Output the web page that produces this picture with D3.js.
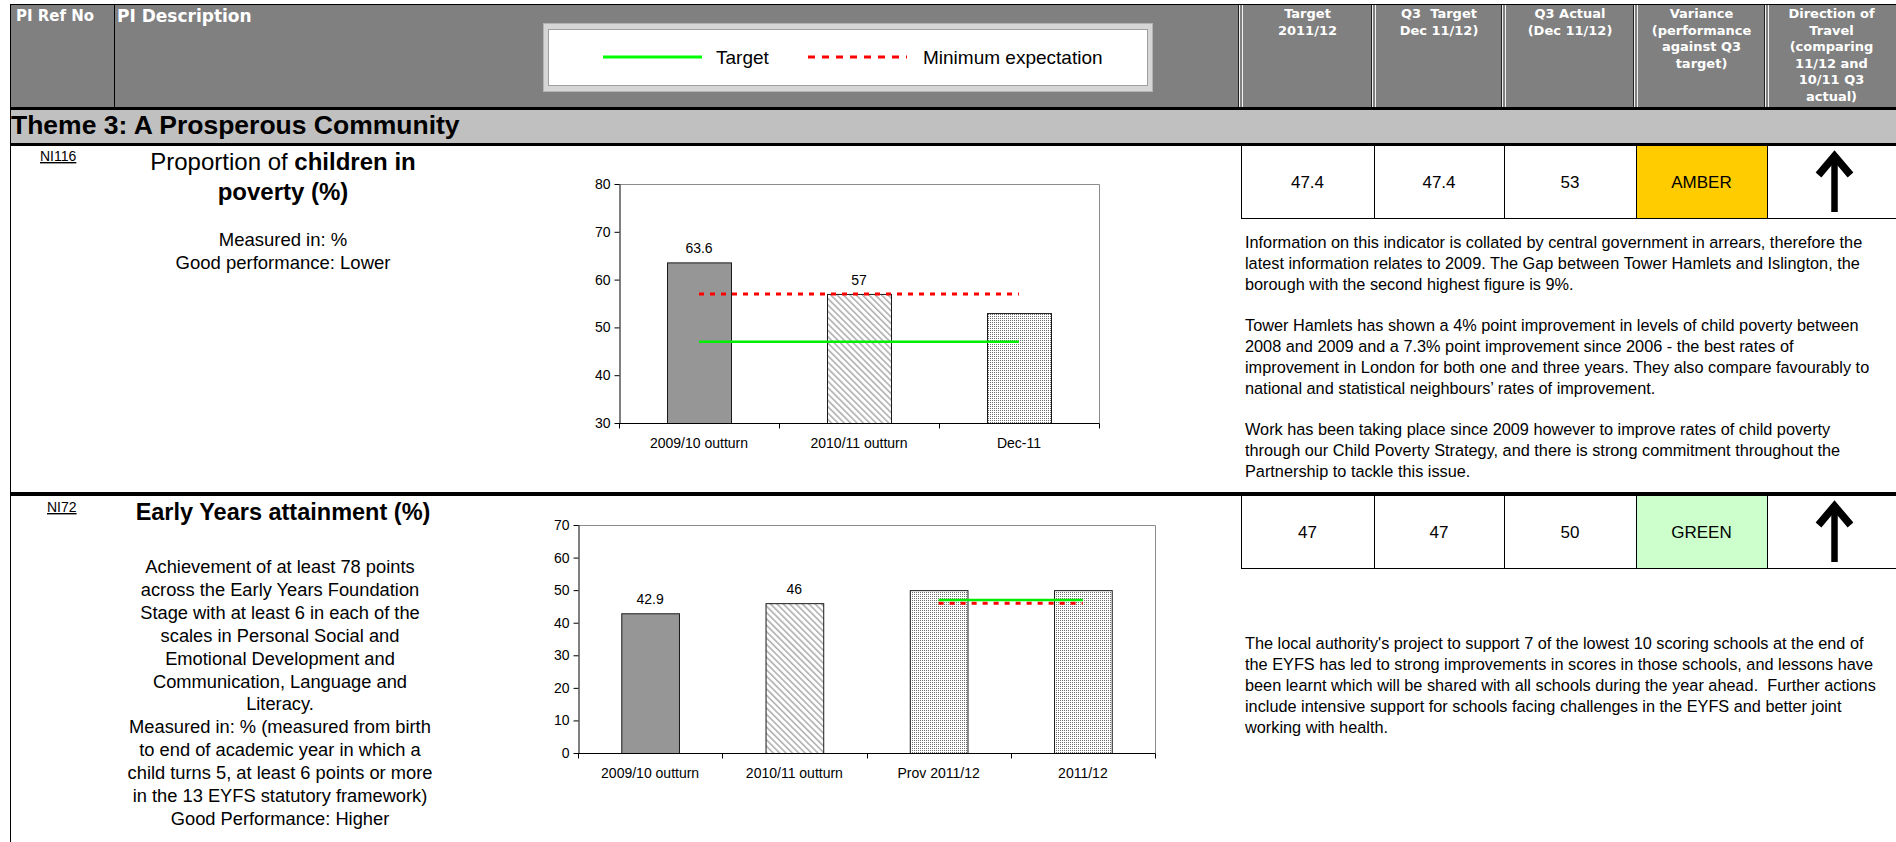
<!DOCTYPE html>
<html>
<head>
<meta charset="utf-8">
<script src="https://cdn.jsdelivr.net/npm/d3@7"></script>
<style>
  body { margin: 0; background: #fff; }
  text { font-family: "Liberation Sans", Arial, sans-serif; fill: #000; }
  .hdr { font-family: "DejaVu Sans", Verdana, sans-serif; font-weight: bold; fill: #fff; }
  .pre { white-space: pre; }
</style>
</head>
<body>
<svg id="page" width="1896" height="842"></svg>
<script>
// ---- data ----
var headerCols = [
  ["Target", "2011/12"],
  ["Q3  Target", "Dec 11/12)"],
  ["Q3 Actual", "(Dec 11/12)"],
  ["Variance", "(performance", "against Q3", "target)"],
  ["Direction of", "Travel", "(comparing", "11/12 and", "10/11 Q3", "actual)"]
];
var themeTitle = "Theme 3: A Prosperous Community";
var legendItems = ["Target", "Minimum expectation"];

// NI116
var povertyCats = ["2009/10 outturn", "2010/11 outturn", "Dec-11"];
var povertyVals = [63.6, 57, 53];
var povertyLabels = ["63.6", "57", null];
var povertyFills = ["solid", "hatch", "dots"];
var povertyTarget = 47;
var povertyMinimum = 57;
var povertyTicks = [30, 40, 50, 60, 70, 80];
var povertyTable = ["47.4", "47.4", "53", "AMBER"];
var povertyText = [
  "Information on this indicator is collated by central government in arrears, therefore the",
  "latest information relates to 2009. The Gap between Tower Hamlets and Islington, the",
  "borough with the second highest figure is 9%.",
  "",
  "Tower Hamlets has shown a 4% point improvement in levels of child poverty between",
  "2008 and 2009 and a 7.3% point improvement since 2006 - the best rates of",
  "improvement in London for both one and three years. They also compare favourably to",
  "national and statistical neighbours\u2019 rates of improvement.",
  "",
  "Work has been taking place since 2009 however to improve rates of child poverty",
  "through our Child Poverty Strategy, and there is strong commitment throughout the",
  "Partnership to tackle this issue."
];
var povertyDesc = ["Measured in: %", "Good performance: Lower"];

// NI72
var eyCats = ["2009/10 outturn", "2010/11 outturn", "Prov 2011/12", "2011/12"];
var eyVals = [42.9, 46, 50, 50];
var eyLabels = ["42.9", "46", null, null];
var eyFills = ["solid", "hatch", "dots", "dots"];
var eyTarget = 47;
var eyMinimum = 46;
var eyTicks = [0, 10, 20, 30, 40, 50, 60, 70];
var eyTable = ["47", "47", "50", "GREEN"];
var eyText = [
  "The local authority's project to support 7 of the lowest 10 scoring schools at the end of",
  "the EYFS has led to strong improvements in scores in those schools, and lessons have",
  "been learnt which will be shared with all schools during the year ahead.  Further actions",
  "include intensive support for schools facing challenges in the EYFS and better joint",
  "working with health."
];
var eyDesc = [
  "Achievement of at least 78 points",
  "across the Early Years Foundation",
  "Stage with at least 6 in each of the",
  "scales in Personal Social and",
  "Emotional Development and",
  "Communication, Language and",
  "Literacy.",
  "Measured in: % (measured from birth",
  "to end of academic year in which a",
  "child turns 5, at least 6 points or more",
  "in the 13 EYFS statutory framework)",
  "Good Performance: Higher"
];

var colEdges = [1241, 1374, 1504, 1636, 1767, 1896];

var svg = d3.select("#page");

// patterns for the bars
var defs = svg.append("defs");
var hatch = defs.append("pattern")
  .attr("id", "hatch")
  .attr("patternUnits", "userSpaceOnUse")
  .attr("width", 4.5).attr("height", 4.5)
  .attr("patternTransform", "rotate(-45)");
hatch.append("rect").attr("width", 4.5).attr("height", 4.5).attr("fill", "#fff");
hatch.append("rect").attr("width", 1.6).attr("height", 4.5).attr("fill", "#b0b0b0");

var dots = defs.append("pattern")
  .attr("id", "dots")
  .attr("patternUnits", "userSpaceOnUse")
  .attr("width", 2).attr("height", 2);
dots.append("rect").attr("width", 2).attr("height", 2).attr("fill", "#fff");
dots.append("rect").attr("width", 1).attr("height", 1).attr("fill", "#6e6e6e");

var fillFor = { solid: "#969696", hatch: "url(#hatch)", dots: "url(#dots)" };

// ---- header ----
svg.append("rect").attr("x", 10).attr("y", 4).attr("width", 1886).attr("height", 104).attr("fill", "#808080");
svg.append("line").attr("x1", 10).attr("x2", 1896).attr("y1", 4.5).attr("y2", 4.5).attr("stroke", "#000");
svg.append("line").attr("x1", 114.5).attr("x2", 114.5).attr("y1", 4).attr("y2", 108).attr("stroke", "#000");

colEdges.slice(0, 5).forEach(function(x) {
  svg.append("line").attr("x1", x - 2.5).attr("x2", x - 2.5).attr("y1", 5).attr("y2", 107).attr("stroke", "#222");
  svg.append("line").attr("x1", x - 1.5).attr("x2", x - 1.5).attr("y1", 5).attr("y2", 107).attr("stroke", "#f0f0f0");
  svg.append("line").attr("x1", x + 1.5).attr("x2", x + 1.5).attr("y1", 5).attr("y2", 107).attr("stroke", "#f0f0f0");
});

svg.append("text").attr("class", "hdr").attr("x", 16).attr("y", 21).style("font-size", "15px").text("PI Ref No");
svg.append("text").attr("class", "hdr").attr("x", 117).attr("y", 22).style("font-size", "17px").text("PI Description");

headerCols.forEach(function(lines, i) {
  var cx = (colEdges[i] + colEdges[i + 1]) / 2;
  lines.forEach(function(s, j) {
    svg.append("text").attr("class", "hdr pre")
      .attr("x", cx).attr("y", 18 + j * 16.6)
      .attr("text-anchor", "middle")
      .style("font-size", "13px")
      .text(s);
  });
});

// legend box
svg.append("rect").attr("x", 543.5).attr("y", 23.5).attr("width", 609).attr("height", 68)
  .attr("fill", "#d6d6d6").attr("stroke", "#b4b4b4");
svg.append("rect").attr("x", 548.5).attr("y", 29.5).attr("width", 599).attr("height", 56)
  .attr("fill", "#fff").attr("stroke", "#a0a0a0");
svg.append("line").attr("x1", 603).attr("x2", 702).attr("y1", 57).attr("y2", 57)
  .attr("stroke", "#00ff00").attr("stroke-width", 3);
svg.append("text").attr("x", 716).attr("y", 64).style("font-size", "19px").text(legendItems[0]);
svg.append("line").attr("x1", 808).attr("x2", 907).attr("y1", 57).attr("y2", 57)
  .attr("stroke", "#ff0000").attr("stroke-width", 3).attr("stroke-dasharray", "7,7");
svg.append("text").attr("x", 923).attr("y", 64).style("font-size", "19px").text(legendItems[1]);

// thick rules and theme band
svg.append("rect").attr("x", 10).attr("y", 107).attr("width", 1886).attr("height", 3).attr("fill", "#000");
svg.append("rect").attr("x", 10).attr("y", 110).attr("width", 1886).attr("height", 33).attr("fill", "#c0c0c0");
svg.append("rect").attr("x", 10).attr("y", 143).attr("width", 1886).attr("height", 3).attr("fill", "#000");
svg.append("rect").attr("x", 10).attr("y", 492).attr("width", 1886).attr("height", 4).attr("fill", "#000");
svg.append("line").attr("x1", 10.5).attr("x2", 10.5).attr("y1", 4).attr("y2", 842).attr("stroke", "#000");

svg.append("text").attr("x", 11).attr("y", 134)
  .style("font-size", "26.5px").style("font-weight", "bold")
  .text(themeTitle);

// ---- helpers ----
function refLabel(x, y, s) {
  svg.append("text").attr("x", x).attr("y", y)
    .style("font-size", "14px").style("text-decoration", "underline")
    .text(s);
}

function centredLines(lines, cx, y0, step, size) {
  lines.forEach(function(s, i) {
    svg.append("text").attr("x", cx).attr("y", y0 + i * step)
      .attr("text-anchor", "middle").style("font-size", size + "px")
      .text(s);
  });
}

function paragraph(lines, x, y0, step) {
  lines.forEach(function(s, i) {
    if (!s) return;
    svg.append("text").attr("class", "pre").attr("x", x).attr("y", y0 + i * step)
      .style("font-size", "16.3px").text(s);
  });
}

function arrowUp(cx, top, bottom) {
  svg.append("line").attr("x1", cx).attr("x2", cx).attr("y1", top + 6).attr("y2", bottom)
    .attr("stroke", "#000").attr("stroke-width", 6.5);
  svg.append("path")
    .attr("d", "M" + (cx - 16) + "," + (top + 23) + "L" + cx + "," + (top + 4) + "L" + (cx + 16) + "," + (top + 23))
    .attr("fill", "none").attr("stroke", "#000").attr("stroke-width", 7.5)
    .attr("stroke-linejoin", "miter");
}

function tableRow(vals, top, bottom, colour) {
  var g = svg.append("g");
  g.append("rect").attr("x", colEdges[3]).attr("y", top).attr("width", colEdges[4] - colEdges[3])
    .attr("height", bottom - top).attr("fill", colour);
  g.append("line").attr("x1", colEdges[0]).attr("x2", 1896).attr("y1", bottom + 0.5).attr("y2", bottom + 0.5)
    .attr("stroke", "#000");
  colEdges.slice(0, 5).forEach(function(x) {
    g.append("line").attr("x1", x + 0.5).attr("x2", x + 0.5).attr("y1", top).attr("y2", bottom)
      .attr("stroke", "#000");
  });
  vals.forEach(function(v, i) {
    g.append("text").attr("x", (colEdges[i] + colEdges[i + 1]) / 2).attr("y", (top + bottom) / 2 + 6)
      .attr("text-anchor", "middle").style("font-size", "17px").text(v);
  });
  arrowUp((colEdges[4] + colEdges[5]) / 2 + 3, top + 6, bottom - 6);
}

function drawChart(c) {
  var g = svg.append("g");
  var x = d3.scaleBand().domain(c.cats).range([c.left, c.right])
    .paddingInner(0.6).paddingOuter(0.3);
  var y = d3.scaleLinear().domain(c.domain).range([c.bottom, c.top]);

  // plot frame (top and right)
  g.append("path")
    .attr("d", "M" + c.left + "," + (c.top + 0.5) + "H" + (c.right + 0.5) + "V" + c.bottom)
    .attr("fill", "none").attr("stroke", "#8c8c8c");

  g.selectAll("rect.bar")
    .data(c.vals)
    .enter()
    .append("rect")
    .attr("class", "bar")
    .attr("x", (d, i) => x(c.cats[i]) + 0.5)
    .attr("y", d => y(d) + 0.5)
    .attr("width", x.bandwidth())
    .attr("height", d => c.bottom - y(d))
    .attr("fill", (d, i) => fillFor[c.fills[i]])
    .attr("stroke", "#1a1a1a");

  var x1 = x(c.cats[c.lineFrom]) + x.bandwidth() / 2;
  var x2 = x(c.cats[c.lineTo]) + x.bandwidth() / 2;
  g.append("line").attr("x1", x1).attr("x2", x2).attr("y1", y(c.minimum)).attr("y2", y(c.minimum))
    .attr("stroke", "#ff0000").attr("stroke-width", 3).attr("stroke-dasharray", "5,6");
  g.append("line").attr("x1", x1).attr("x2", x2).attr("y1", y(c.target)).attr("y2", y(c.target))
    .attr("stroke", "#00ee00").attr("stroke-width", 2.5);

  g.selectAll("text.val")
    .data(c.labels)
    .enter()
    .filter(d => d !== null)
    .append("text")
    .attr("class", "val")
    .attr("text-anchor", "middle")
    .attr("x", (d) => x(c.cats[c.labels.indexOf(d)]) + x.bandwidth() / 2)
    .attr("y", (d) => y(c.vals[c.labels.indexOf(d)]) - 9)
    .style("font-size", "14px")
    .text(d => d);

  // axes
  var leftAxis = d3.axisLeft(y).tickValues(c.ticks).tickSize(5).tickSizeOuter(0).tickPadding(4);
  var yAxis = g.append("g").attr("transform", "translate(" + (c.left + 0.5) + ",0)").call(leftAxis);

  var bottomAxis = d3.axisBottom(x).tickSize(0).tickPadding(15);
  var xAxis = g.append("g").attr("transform", "translate(0," + (c.bottom + 0.5) + ")").call(bottomAxis);
  xAxis.select(".domain").attr("d", "M" + c.left + ",0H" + (c.right + 0.5));

  // Excel style ticks on band boundaries
  var step = x.step();
  d3.range(c.cats.length + 1).forEach(function(i) {
    var px = Math.round(c.left + i * step) + 0.5;
    xAxis.append("line").attr("x1", px).attr("x2", px).attr("y1", 0).attr("y2", 5).attr("stroke", "#000");
  });

  [yAxis, xAxis].forEach(function(a) {
    a.selectAll("text").style("font-size", "14px").style("font-family", "Liberation Sans, Arial, sans-serif").attr("fill", "#000");
    a.selectAll("path, line").attr("stroke", "#000");
  });
}

// ---- row 1: NI116 ----
refLabel(40, 161, "NI116");
var t1 = svg.append("text").attr("x", 283).attr("y", 170).attr("text-anchor", "middle").style("font-size", "24px");
t1.append("tspan").text("Proportion of ");
t1.append("tspan").style("font-weight", "bold").text("children in");
svg.append("text").attr("x", 283).attr("y", 200).attr("text-anchor", "middle")
  .style("font-size", "24px").style("font-weight", "bold").text("poverty (%)");
centredLines(povertyDesc, 283, 246, 23, 18.5);

drawChart({
  cats: povertyCats, vals: povertyVals, labels: povertyLabels, fills: povertyFills,
  target: povertyTarget, minimum: povertyMinimum, lineFrom: 0, lineTo: 2,
  domain: [30, 80], ticks: povertyTicks,
  left: 619, right: 1099, top: 184, bottom: 423
});

tableRow(povertyTable, 146, 218, "#ffcc00");
paragraph(povertyText, 1245, 248, 20.8);

// ---- row 2: NI72 ----
refLabel(47, 512, "NI72");
svg.append("text").attr("x", 283).attr("y", 520).attr("text-anchor", "middle")
  .style("font-size", "23.5px").style("font-weight", "bold").text("Early Years attainment (%)");
centredLines(eyDesc, 280, 573, 22.9, 18.3);

drawChart({
  cats: eyCats, vals: eyVals, labels: eyLabels, fills: eyFills,
  target: eyTarget, minimum: eyMinimum, lineFrom: 2, lineTo: 3,
  domain: [0, 70], ticks: eyTicks,
  left: 578, right: 1155, top: 525, bottom: 753
});

tableRow(eyTable, 496, 568, "#ccffcc");
paragraph(eyText, 1245, 649, 21);
</script>
</body>
</html>
